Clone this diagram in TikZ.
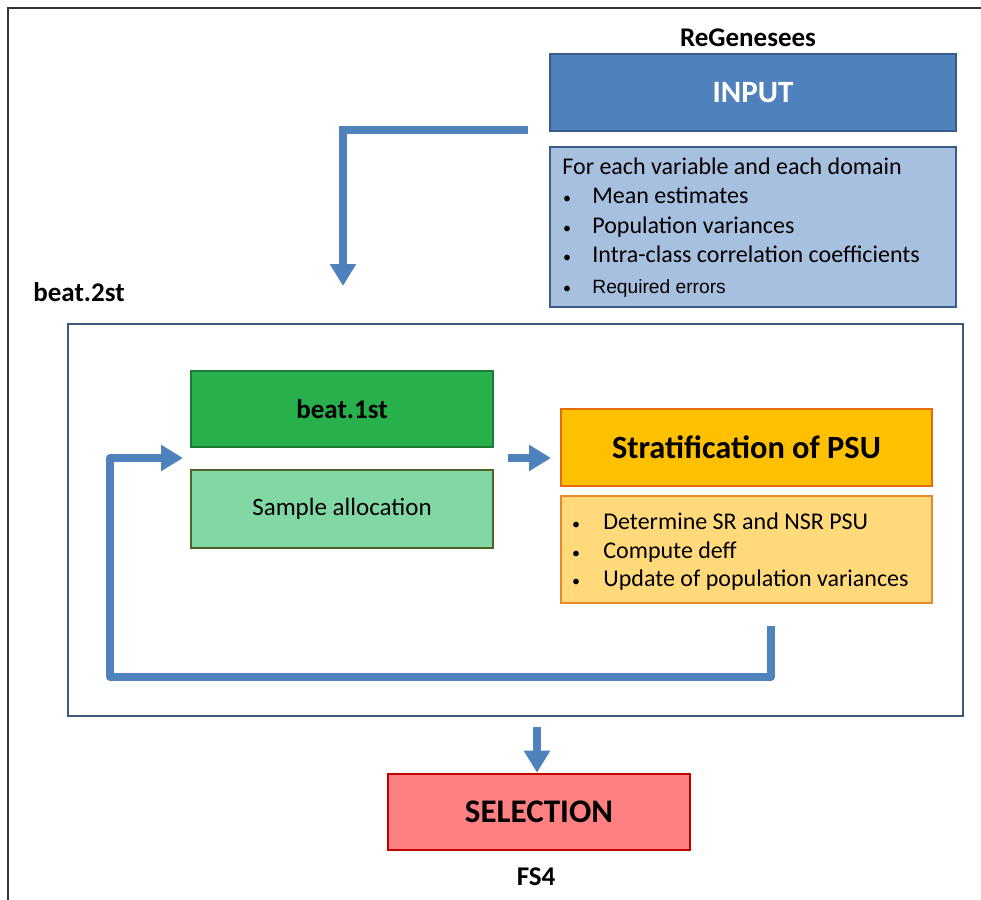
\documentclass[tikz,border=0pt]{standalone}
\usepackage{fontspec}
\setmainfont{Carlito}
\newfontfamily\arialf{Liberation Sans}
\usetikzlibrary{arrows.meta}
\definecolor{arrblue}{HTML}{4F81BD}
\definecolor{inpfill}{HTML}{4F81BD}
\definecolor{inpdraw}{HTML}{385D8A}
\definecolor{lstfill}{HTML}{A8C0E0}
\definecolor{g1fill}{HTML}{27B04C}
\definecolor{g1draw}{HTML}{1E7B34}
\definecolor{g2fill}{HTML}{82D8A4}
\definecolor{g2draw}{HTML}{4F6228}
\definecolor{o1fill}{HTML}{FFC000}
\definecolor{o1draw}{HTML}{E46C0A}
\definecolor{o2fill}{HTML}{FFD97A}
\definecolor{o2draw}{HTML}{E8892C}
\definecolor{rfill}{HTML}{FF8080}
\definecolor{rdraw}{HTML}{C00000}
\definecolor{framec}{HTML}{3C5A7D}
\tikzset{
  box/.style={draw, line width=1.3pt, inner sep=0pt},
  flow/.style={draw=arrblue, line width=3.6pt, -{Triangle[width=12.5pt,length=11pt]}},
  title/.style={font=\bfseries\fontsize{13.5}{15}\selectfont, inner sep=0pt},
  li/.style={font=\fontsize{12}{14}\selectfont, inner sep=0pt, anchor=base west},
  bu/.style={font=\fontsize{8}{9}\selectfont, inner sep=0pt, anchor=base},
}
\begin{document}
\begin{tikzpicture}[x=0.5pt,y=-0.5pt]
\useasboundingbox (0,0) rectangle (981,900);
\fill[white] (0,0) rectangle (981,900);
\draw[line width=1pt, draw=black!80] (8,900) -- (8,8) -- (981,8);

% top
\node[title] (regen) at (748,38) {ReGenesees};
\node[box, fill=inpfill, draw=inpdraw, minimum width=203pt, minimum height=38.5pt,
      text=white, font=\bfseries\fontsize{15.5}{18}\selectfont] (input) at (753,92.5) {INPUT};
\node[box, fill=lstfill, draw=inpdraw, minimum width=203pt, minimum height=80pt] (inlist) at (753,227) {};
\node[li] (in0) at (562,174) {For each variable and each domain};
\node[bu] (ib1) at (567,203) {\textbullet};
\node[li] (in1) at (592,203) {Mean estimates};
\node[bu] (ib2) at (567,233) {\textbullet};
\node[li] (in2) at (592,233) {Population variances};
\node[bu] (ib3) at (567,262) {\textbullet};
\node[li] (in3) at (592,262) {Intra-class correlation coefficients};
\node[bu] (ib4) at (567,293) {\textbullet};
\node[li, font=\arialf\fontsize{9.6}{11}\selectfont] (in4) at (592,293) {Required errors};

% arrow to beat.2st
\coordinate (a1s) at (528,130);
\coordinate (a1e) at (343,286);
\draw[flow] (a1s) -- (343,130) -- (a1e);

% beat.2st frame
\node[title, anchor=west] (beat2lbl) at (33,292) {beat.2st};
\node[box, draw=framec, line width=1.1pt, minimum width=447.5pt, minimum height=196pt] (frame) at (515.5,520) {};

% beat.1st
\node[box, fill=g1fill, draw=g1draw, minimum width=151pt, minimum height=38pt,
      font=\bfseries\fontsize{13.5}{15}\selectfont] (beat1) at (342,409) {beat.1st};
\node[box, fill=g2fill, draw=g2draw, minimum width=151pt, minimum height=39pt,
      font=\fontsize{12.5}{14}\selectfont] (sample) at (342,509) {Sample allocation};

% stratification
\node[box, fill=o1fill, draw=o1draw, minimum width=185.5pt, minimum height=38.5pt,
      font=\bfseries\fontsize{16.2}{18}\selectfont] (strat) at (746.5,447.5) {Stratification of PSU};
\node[box, fill=o2fill, draw=o2draw, minimum width=185.5pt, minimum height=53.5pt] (stlist) at (746.5,549.5) {};
\node[bu] (sb1) at (576,529) {\textbullet};
\node[li] (st1) at (603,529) {Determine SR and NSR PSU};
\node[bu] (sb2) at (576,558) {\textbullet};
\node[li] (st2) at (603,558) {Compute deff};
\node[bu] (sb3) at (576,586) {\textbullet};
\node[li] (st3) at (603,586) {Update of population variances};

% arrow beat.1st -> strat
\coordinate (a2s) at (508,458);
\coordinate (a2e) at (551,458);
\draw[flow] (a2s) -- (a2e);

% loop back
\coordinate (l1) at (771,626);
\coordinate (l4) at (183,458);
\draw[flow, line join=round] (l1) -- (771,677) -- (110,677) -- (110,458) -- (l4);

% selection
\node[box, fill=rfill, draw=rdraw, minimum width=151pt, minimum height=38pt,
      font=\bfseries\fontsize{16.5}{18}\selectfont] (sel) at (539,812) {SELECTION};
\coordinate (a3s) at (537,727);
\draw[flow] (a3s) -- (sel.north -| a3s);
\node[title] (fs4) at (536,877) {FS4};
\end{tikzpicture}
\end{document}
